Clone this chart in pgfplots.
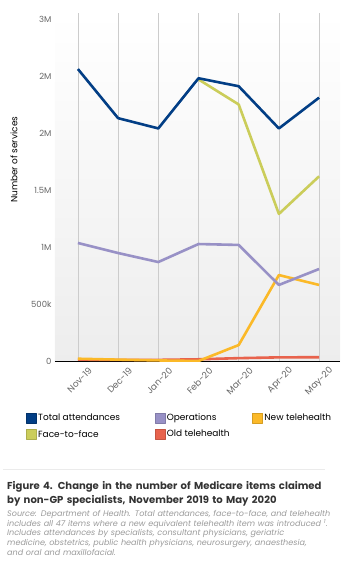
\documentclass[border=0pt]{standalone}
\usepackage{pgfplots}
\pgfplotsset{compat=1.18}
\usepackage{fontspec}
\setmainfont{Poppins}
\definecolor{ctot}{HTML}{023E85}
\definecolor{cops}{HTML}{9891C6}
\definecolor{cnew}{HTML}{FBB928}
\definecolor{cf2f}{HTML}{CBCD5A}
\definecolor{cold}{HTML}{E8634D}
\definecolor{ctick}{HTML}{666666}
\definecolor{ctitle}{HTML}{333333}
\definecolor{csrc}{HTML}{9A9A9A}
\begin{document}
\begin{tikzpicture}[x=1bp,y=1bp]
\path[use as bounding box] (-55,-202) rectangle (295,361);
\begin{axis}[
  at={(0,0)}, anchor=south west,
  scale only axis, width=285bp, height=348bp,
  xmin=-0.57, xmax=6.52, ymin=0, ymax=3052600,
  xtick={0,...,6},
  xticklabels={Nov-19,Dec-19,Jan-20,Feb-20,Mar-20,Apr-20,May-20},
  ytick={0,500000,1000000,1500000,2000000,2500000,3000000},
  yticklabels={0,500k,1M,1.5M,2M,2M,3M},
  scaled y ticks=false,
  major tick length=0pt,
  separate axis lines,
  axis x line*=bottom, axis y line*=left,
  x axis line style={black, line width=0.9bp, -},
  y axis line style={draw=none},
  xmajorgrids, grid style={gray!40, line width=0.8bp},
  axis background/.style={top color=white, bottom color=black!7},
  tick label style={font=\fontsize{8.5}{10}\selectfont, text=ctick},
  /pgf/number format/assume math mode=true,
  xticklabel style={xshift=15bp, yshift=-6bp, rotate=45, anchor=east, font=\fontsize{9}{10}\selectfont},
  ylabel={Number of services},
  ylabel style={at={(axis description cs:-0.144,0.578)}, anchor=center, rotate=0, font=\fontsize{9}{11}\selectfont},
  legend columns=3,
  legend cell align=left,
  legend style={draw=none, fill=none, at={(axis description cs:-0.102,-0.147)}, anchor=north west,
    font=\fontsize{9}{11}\selectfont, row sep=5bp, inner sep=0pt,
    nodes={inner sep=1.5bp}},
  legend image code/.code={\draw[#1, line width=0.6bp] (0bp,-5bp) rectangle (10bp,5bp);},
  every axis plot/.append style={line width=2.6bp, line join=round, mark=none},
]
\addlegendimage{fill=ctot, draw=ctot!80!black}
\addlegendentry{\makebox[115bp][l]{Total attendances}}
\addlegendimage{fill=cops, draw=cops!85!black}
\addlegendentry{\makebox[84bp][l]{Operations}}
\addlegendimage{fill=cnew, draw=cnew!85!black}
\addlegendentry{New telehealth}
\addlegendimage{fill=cf2f, draw=cf2f!85!black}
\addlegendentry{\makebox[115bp][l]{Face-to-face}}
\addlegendimage{fill=cold, draw=cold!85!black}
\addlegendentry{\makebox[84bp][l]{Old telehealth}}

\addplot[cold, forget plot] coordinates {(0,12000) (1,10000) (2,10000) (3,15000) (4,25000) (5,32000) (6,33000)};
\addplot[cnew, forget plot] coordinates {(0,20000) (1,12000) (2,5000) (3,0) (4,140000) (5,754000) (6,667000)};
\addplot[cops, forget plot] coordinates {(0,1035000) (1,947000) (2,868000) (3,1026000) (4,1018000) (5,667000) (6,807000)};
\addplot[cf2f, forget plot] coordinates {(3,2470000) (4,2250000) (5,1290000) (6,1620000)};
\addplot[ctot, forget plot] coordinates {(0,2561000) (1,2130000) (2,2040000) (3,2480000) (4,2410000) (5,2040000) (6,2310000)};
\end{axis}
\draw[color=black!8, line width=0.8bp] (-52,-108) -- (270,-108);
\node[anchor=north west, inner sep=0pt, align=left, text width=330bp, text=ctitle,
  font=\fontsize{10.1}{14}\selectfont\bfseries] at (-48,-120)
  {Figure 4. Change in the number of Medicare items claimed\\by non-GP specialists, November 2019 to May 2020};
\node[anchor=north west, inner sep=0pt, align=left, text width=330bp, text=csrc,
  font=\fontsize{8.1}{9.8}\selectfont\itshape] at (-48,-149)
  {Source: Department of Health. Total attendances, face-to-face, and telehealth\\
   includes all 47 items where a new equivalent telehealth item was introduced \textsuperscript{1}.\\
   Includes attendances by specialists, consultant physicians, geriatric\\
   medicine, obstetrics, public health physicians, neurosurgery, anaesthesia,\\
   and oral and maxillofacial.};
\end{tikzpicture}
\end{document}
